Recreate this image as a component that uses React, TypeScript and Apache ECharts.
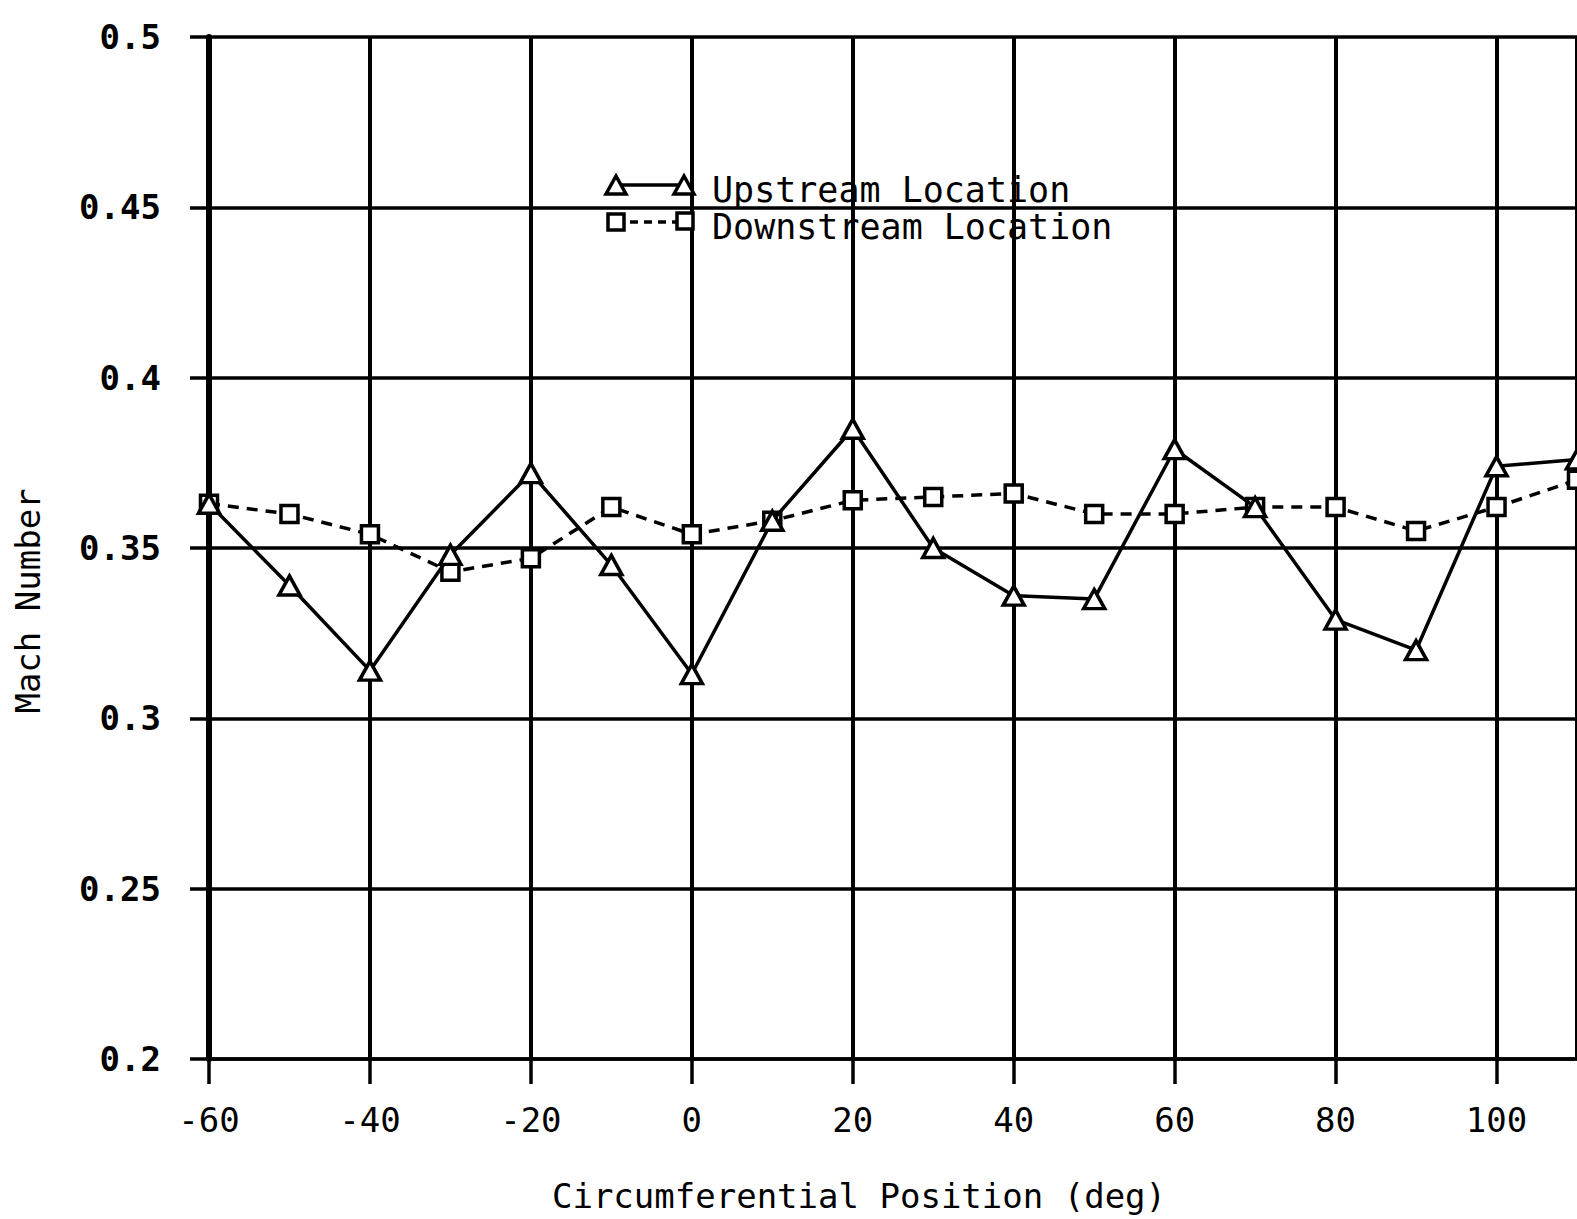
import React, { useEffect, useRef } from "react";
import * as echarts from "echarts";

const positions = [-60, -50, -40, -30, -20, -10, 0, 10, 20, 30, 40, 50, 60, 70, 80, 90, 100, 110];
const upstream = [0.363, 0.339, 0.314, 0.348, 0.372, 0.345, 0.313, 0.358, 0.385, 0.35, 0.336, 0.335, 0.379, 0.362, 0.329, 0.32, 0.374, 0.376];
const downstream = [0.363, 0.36, 0.354, 0.343, 0.347, 0.362, 0.354, 0.358, 0.364, 0.365, 0.366, 0.36, 0.36, 0.362, 0.362, 0.355, 0.362, 0.37];
const legendNames = ["Upstream Location", "Downstream Location"];
const xTitle = "Circumferential Position (deg)";
const yTitle = "Mach Number";

const FONT = "'DejaVu Sans Mono', 'Liberation Mono', monospace";

export default function App() {
  const ref = useRef<HTMLDivElement>(null);
  useEffect(() => {
    if (!ref.current) return;
    const chart = echarts.init(ref.current, undefined, { renderer: "svg" });
    const tri = (cx: number, cy: number) => ({
      type: "polygon",
      shape: { points: [[cx, cy - 11], [cx + 10, cy + 7], [cx - 10, cy + 7]] },
      style: { fill: "#fff", stroke: "#000", lineWidth: 3.5 },
      z: 20,
    });
    const sq = (cx: number, cy: number) => ({
      type: "rect",
      shape: { x: cx - 8, y: cy - 8, width: 16, height: 16 },
      style: { fill: "#fff", stroke: "#000", lineWidth: 3.5 },
      z: 20,
    });
    chart.setOption({
      animation: false,
      backgroundColor: "#fff",
      grid: { left: 209, right: 0, top: 37, bottom: 160, containLabel: false, outerBoundsMode: "none" },
      xAxis: {
        type: "value",
        min: -60,
        max: 110,
        interval: 20,
        name: xTitle,
        nameLocation: "middle",
        nameGap: 120,
        nameTextStyle: { fontFamily: FONT, fontSize: 34, color: "#000", padding: [0, 68, 0, 0] },
        axisLine: { show: true, onZero: false, lineStyle: { color: "#000", width: 3.5 } },
        axisTick: { show: true, length: 25, lineStyle: { color: "#000", width: 3.5 } },
        axisLabel: { showMaxLabel: false, margin: 44, fontFamily: FONT, fontSize: 34, color: "#000" },
        splitLine: { show: true, lineStyle: { color: "#000", width: 4 } },
      },
      yAxis: {
        type: "value",
        min: 0.2,
        max: 0.5,
        interval: 0.05,
        axisLine: { show: true, onZero: false, lineStyle: { color: "#000", width: 6 } },
        axisTick: { show: true, length: 19, lineStyle: { color: "#000", width: 3.5 } },
        axisLabel: { margin: 48, fontFamily: FONT, fontSize: 34, fontWeight: "bold", color: "#000" },
        splitLine: { show: true, lineStyle: { color: "#000", width: 3.5 } },
      },
      series: [
        {
          name: legendNames[0],
          type: "line",
          data: positions.map((x, i) => [x, upstream[i]]),
          symbol: "triangle",
          symbolSize: [21, 19],
          itemStyle: { color: "#fff", borderColor: "#000", borderWidth: 3.5 },
          lineStyle: { color: "#000", width: 3.5 },
          z: 10,
        },
        {
          name: legendNames[1],
          type: "line",
          data: positions.map((x, i) => [x, downstream[i]]),
          symbol: "rect",
          symbolSize: 17,
          itemStyle: { color: "#fff", borderColor: "#000", borderWidth: 3.5 },
          lineStyle: { color: "#000", width: 3.5, type: [11, 8] },
          z: 9,
        },
      ],
      graphic: [
        {
          type: "text",
          x: 28,
          y: 601,
          rotation: Math.PI / 2,
          style: { text: yTitle, font: `34px ${FONT}`, fill: "#000", align: "center", verticalAlign: "middle" },
        },
        { type: "line", shape: { x1: 616, y1: 185, x2: 684, y2: 185 }, style: { stroke: "#000", lineWidth: 3.5 }, z: 19 },
        tri(616, 187),
        tri(684, 187),
        { type: "line", shape: { x1: 616, y1: 222, x2: 685, y2: 222 }, style: { stroke: "#000", lineWidth: 3.5, lineDash: [8, 6] }, z: 19 },
        sq(616, 222),
        sq(685, 221),
        {
          type: "text",
          x: 712,
          y: 190,
          style: { text: legendNames[0], font: `35px ${FONT}`, fill: "#000", verticalAlign: "middle" },
          z: 20,
        },
        {
          type: "text",
          x: 712,
          y: 227,
          style: { text: legendNames[1], font: `35px ${FONT}`, fill: "#000", verticalAlign: "middle" },
          z: 20,
        },
      ],
    });
    return () => chart.dispose();
  }, []);
  return (
    <div
      ref={ref}
      style={{ position: "fixed", left: 0, top: 0, width: 1577, height: 1219, background: "#fff" }}
    />
  );
}
